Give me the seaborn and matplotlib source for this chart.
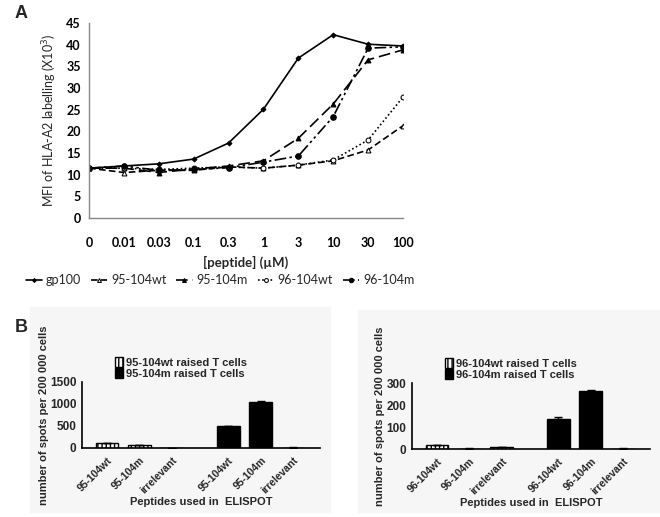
import numpy as np
import pandas as pd
import matplotlib
matplotlib.use('Agg')
import matplotlib.pyplot as plt
from matplotlib.patches import Patch, Rectangle
import seaborn as sns

sns.set_theme(style='white')
plt.rcParams['font.family'] = ['Lato', 'DejaVu Sans']

# ----- Panel A data -----
conc_labels = ['0', '0.01', '0.03', '0.1', '0.3', '1', '3', '10', '30', '100']
gp100 = [11.5, 12.0, 12.5, 13.6, 17.3, 25.1, 36.9, 42.3, 40.1, 39.7]
wt95 = [11.5, 10.5, 11.0, 11.0, 11.8, 11.5, 12.2, 13.2, 15.7, 21.3]
m95 = [11.5, 11.5, 10.5, 11.3, 12.0, 13.2, 18.4, 26.3, 36.5, 38.8]
wt96 = [11.5, 11.5, 11.2, 11.5, 11.8, 11.5, 12.2, 13.4, 18.0, 27.9]
m96 = [11.5, 12.0, 11.0, 11.2, 11.6, 12.9, 14.3, 23.4, 39.2, 39.5]

# ----- Panel B data -----
pep_left = ['95-104wt', '95-104m', 'irrelevant', '95-104wt', '95-104m', 'irrelevant']
pep_right = ['96-104wt', '96-104m', 'irrelevant', '96-104wt', '96-104m', 'irrelevant']
bar_pos = [0, 1, 2, 3.75, 4.75, 5.75]
bar_group = ['wt', 'wt', 'wt', 'm', 'm', 'm']
left_vals = [105, 65, 2, 490, 1050, 10]
left_err = [8, 5, 0, 8, 10, 2]
right_vals = [18, 2, 10, 138, 263, 2]
right_err = [2, 1, 1, 9, 6, 1]

fig = plt.figure(figsize=(6.6, 5.17), dpi=100)

# light grey boxes behind panel B plots
fig.patches.append(Rectangle((30 / 660, 5 / 517), 300 / 660, 205 / 517,
                             transform=fig.transFigure, color='#f6f6f6', zorder=-1))
fig.patches.append(Rectangle((358 / 660, 5 / 517), 302 / 660, 202 / 517,
                             transform=fig.transFigure, color='#f6f6f6', zorder=-1))

# ----- Panel A -----
axA = fig.add_axes([89 / 660, 1 - 218 / 517, 314 / 660, 195 / 517])
axA.set_facecolor('none')
x = np.arange(len(conc_labels))
series = [
    ('gp100', gp100, dict(linestyle='-', marker='D', markersize=2.5, mfc='black')),
    ('95-104wt', wt95, dict(linestyle=(0, (4, 2)), marker='^', markersize=3.5, mfc='white')),
    ('95-104m', m95, dict(linestyle=(0, (7, 3)), marker='^', markersize=3.5, mfc='black')),
    ('96-104wt', wt96, dict(linestyle=(0, (1, 1.5)), marker='o', markersize=3.5, mfc='white')),
    ('96-104m', m96, dict(linestyle=(0, (7, 2, 1.5, 2, 1.5, 2)), marker='o', markersize=4, mfc='black')),
]
for name, vals, kw in series:
    sns.lineplot(x=x, y=vals, ax=axA, color='black', linewidth=1.2, mec='black',
                 label=name, **kw)

axA.set_xlim(0, 9)
axA.set_ylim(0, 45)
axA.set_yticks(range(0, 46, 5))
axA.set_xticks(x)
axA.set_xticklabels(conc_labels)
for s in ['top', 'right']:
    axA.spines[s].set_visible(False)
for s in ['left', 'bottom']:
    axA.spines[s].set_color('#888888')
    axA.spines[s].set_linewidth(1.0)
axA.tick_params(axis='both', direction='out', length=4, color='#888888', width=1,
                labelsize=9, labelcolor='black')
axA.tick_params(axis='x', pad=10)
axA.tick_params(axis='y', pad=2)
for lab in axA.get_xticklabels() + axA.get_yticklabels():
    lab.set_fontweight('bold')
axA.set_ylabel('MFI of HLA-A2 labelling (X10$^3$)', fontsize=9, labelpad=5)
axA.set_xlabel('[peptide] (\u00b5M)', fontsize=9.5, fontweight='bold')
axA.xaxis.set_label_coords(0.5, -0.195)
axA.legend(loc='center', bbox_to_anchor=(220 / 660, 1 - 280 / 517), bbox_transform=fig.transFigure,
           ncol=5, frameon=False, fontsize=9, handlelength=1.3, handletextpad=0.3,
           columnspacing=0.8, markerscale=0.8)
fig.text(15 / 660, 1 - 13 / 517, 'A', fontsize=13, fontweight='bold', va='center',
         family=['Liberation Sans', 'DejaVu Sans'])
fig.text(15 / 660, 1 - 327 / 517, 'B', fontsize=13, fontweight='bold', va='center',
         family=['Liberation Sans', 'DejaVu Sans'])


def elispot(rect, vals, errs, labels, ymax, yticks, names):
    ax = fig.add_axes(rect)
    ax.set_facecolor('none')
    df = pd.DataFrame({'pos': bar_pos, 'val': vals, 'group': bar_group})
    sns.barplot(data=df, x='pos', y='val', hue='group', hue_order=['wt', 'm'],
                palette={'wt': 'white', 'm': 'black'}, native_scale=True, dodge=False,
                width=0.7, edgecolor='black', linewidth=1.0, errorbar=None,
                legend=False, ax=ax)
    for p in ax.patches:
        if p.get_facecolor()[0] > 0.5:
            p.set_hatch('||||')
    ax.errorbar(bar_pos, vals, yerr=[np.zeros(len(errs)), errs], fmt='none',
                ecolor='black', elinewidth=1, capsize=3, capthick=1)
    ax.set_xlim(-0.77, 6.58)
    ax.set_ylim(0, ymax)
    ax.set_yticks(yticks)
    ax.set_xticks(bar_pos)
    ax.set_xticklabels(labels, rotation=45, ha='right', rotation_mode='anchor',
                       fontsize=7.5, fontweight='bold')
    for lab in ax.get_yticklabels():
        lab.set_fontweight('bold')
    for s in ['top', 'right']:
        ax.spines[s].set_visible(False)
    for s in ['left', 'bottom']:
        ax.spines[s].set_color('black')
        ax.spines[s].set_linewidth(1.2)
    ax.tick_params(axis='both', direction='out', length=3, width=1, color='black',
                   labelsize=8.5)
    ax.tick_params(axis='x', labelsize=7.5, pad=2)
    ax.tick_params(axis='y', pad=1)
    ax.set_ylabel('number of spots per 200 000 cells', fontsize=8, fontweight='bold',
                  labelpad=1)
    ax.set_xlabel('Peptides used in  ELISPOT', fontsize=8, fontweight='bold')
    ax.xaxis.set_label_coords(0.5, -0.74)
    handles = [Patch(facecolor='white', edgecolor='black', hatch='||||'),
               Patch(facecolor='black', edgecolor='black')]
    ax.legend(handles, names, loc='upper left', bbox_to_anchor=(0.12, 1.45), frameon=False,
              prop={'weight': 'bold', 'size': 8, 'family': ['Liberation Sans']},
              handlelength=0.7, handleheight=1.0, handletextpad=0.3, labelspacing=0.05,
              borderaxespad=0)
    for t in [ax.xaxis.label, ax.yaxis.label] + ax.get_xticklabels() + ax.get_yticklabels():
        t.set_family(['Liberation Sans', 'DejaVu Sans'])
    return ax


elispot([82 / 660, 1 - 448 / 517, 238 / 660, 66 / 517], left_vals, left_err, pep_left,
        1500, [0, 500, 1000, 1500],
        ['95-104wt raised T cells', '95-104m raised T cells'])
elispot([412 / 660, 1 - 449 / 517, 238 / 660, 66 / 517], right_vals, right_err, pep_right,
        300, [0, 100, 200, 300],
        ['96-104wt raised T cells', '96-104m raised T cells'])

fig.savefig('out.png', dpi=100)
